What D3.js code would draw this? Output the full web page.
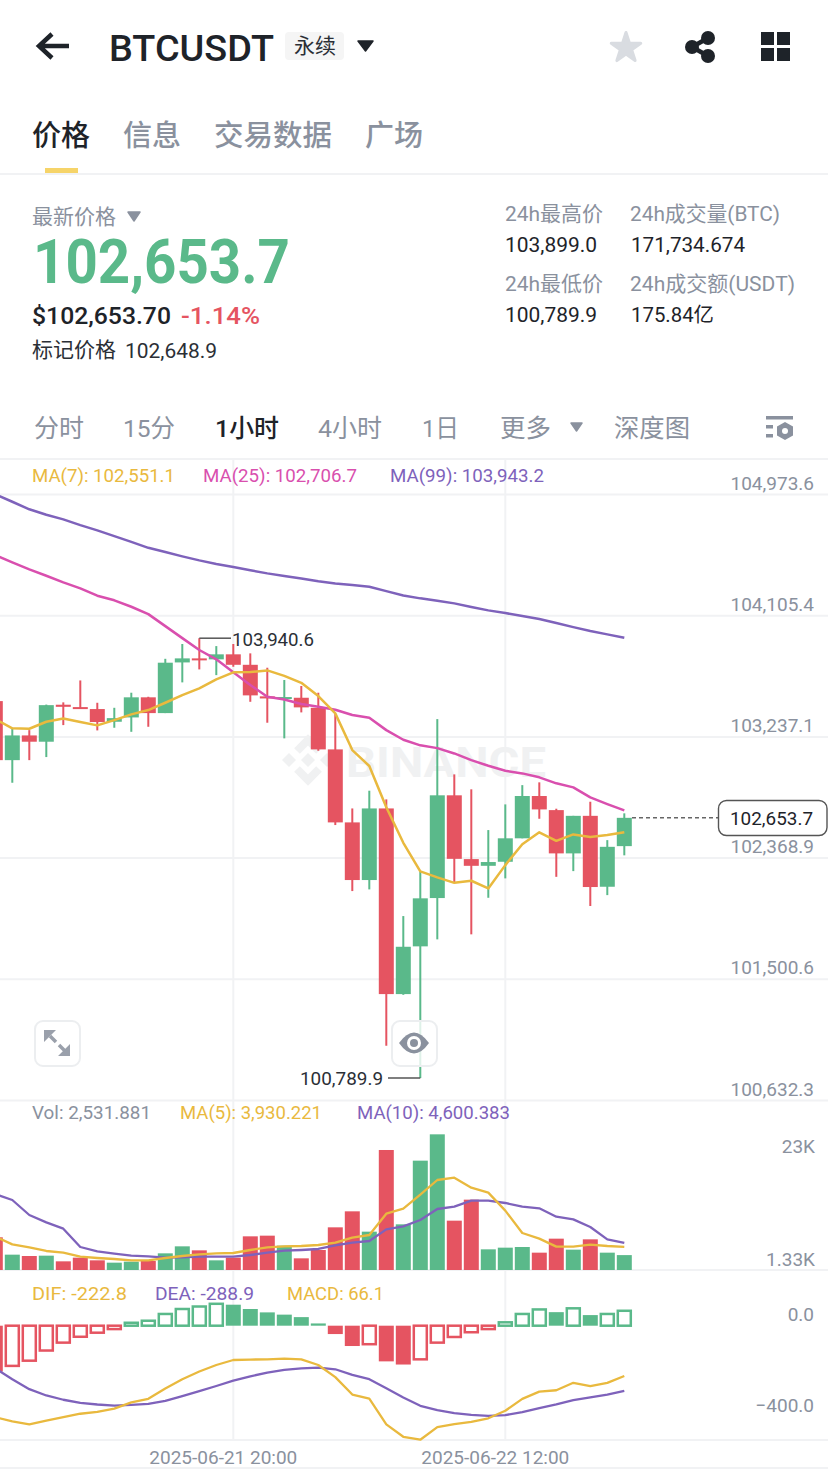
<!doctype html>
<html lang="zh">
<head>
<meta charset="utf-8">
<title>BTCUSDT</title>
<script src="https://cdn.jsdelivr.net/npm/d3@7/dist/d3.min.js"></script>
<style>
  html, body { margin: 0; padding: 0; background: #fff; }
  svg { display: block; }
  text { font-family: Roboto, "Noto Sans CJK SC", sans-serif; }
</style>
</head>
<body>
<svg id="svg" width="828" height="1474"></svg>
<script>
// hourly candles, 2025-06-21 06:00 to 2025-06-22 19:00
var startHour = "2025-06-21T06:00Z";
var candleCount = 38;

var open = [103490,103067,103244,103199,103464,103447,103433,103342,103373,103517,103404,103767,103796,103789,103825,103750,103524,103507,103514,103442,103144,102621,102208,102721,101391,101733,102079,102815,102358,102310,102339,102507,102810,102709,102399,102668,102160,102451];
var high = [103533,103297,103282,103465,103481,103638,103478,103442,103550,103521,103793,103899,103940.6,103884,103899,103832,103729,103641,103598,103550,103397,102721,102848,102786,101950,102267,103361,102965,102858,102566,102750,102888,102908,102719,102668,102769,102494,102686];
var low = [103053,102905,103067,103089,103318,103435,103280,103299,103270,103306,103404,103624,103717,103676,103736,103485,103335,103223,103409,103134,102602,102129,102141,101021,101386,100789.9,101783,102188,101819,102081,102220,102507,102647,102231,102272,102022,102100,102385];
var close = [103067,103244,103199,103461,103449,103435,103340,103368,103517,103404,103765,103796,103784,103825,103750,103531,103509,103519,103445,103144,102621,102208,102721,101391,101730,102077,102815,102360,102310,102337,102507,102810,102714,102399,102668,102158,102446,102653.7];

var ma7 = [103361,103295,103292,103342,103366,103340,103316,103354,103395,103426,103478,103533,103581,103646,103696,103698,103710,103671,103621,103526,103402,103139,103025,102729,102475,102270,102227,102188,102203,102148,102315,102464,102550,102489,102535,102516,102530,102551.1];
var ma25 = [104536,104484,104434,104388,104341,104298,104245,104212,104166,104113,104027,103941,103856,103789,103696,103605,103521,103502,103469,103449,103428,103390,103371,103282,103213,103173,103153,103115,103067,103027,102991,102972,102944,102901,102872,102800,102752,102706.7];
var ma99 = [104971,104918,104864,104825,104792,104751,104713,104672,104631,104588,104558,104527,104498,104472,104450,104427,104405,104386,104369,104348,104333,104321,104309,104278,104247,104226,104209,104190,104164,104140,104121,104099,104078,104049,104020,103992,103968,103943.2];

var volume = [5560,2607,2380,2437,1473,2097,1643,1247,1417,1530,2833,4023,3343,1643,2097,5723,5837,4137,1983,3400,7253,9973,6517,20400,7763,18587,23063,8387,11957,3513,3797,3910,2947,5327,3457,5213,2947,2531.881];
var volMa5 = [5667,4363,3853,3230,2947,2267,2040,1870,1643,1643,2040,2380,2663,2833,2890,3400,3853,4023,4080,4250,4647,5497,5950,9577,10427,12807,15300,15697,13997,13147,10087,6290,5327,3967,3967,4307,4080,3930.221];
var volMa10 = [12920,11900,9350,8103,7027,3910,3173,2777,2437,2323,2097,2153,2267,2267,2267,2550,2947,3287,3400,3570,4193,4647,4930,6913,7423,8500,10370,10767,11787,11787,11390,10767,10483,9067,8613,7310,5213,4600.383];

var macd = [-203,-178,-155,-110,-75,-49,-31,-15,13,22,52,74,85,97,93,74,59,49,38,10,-37,-90,-82,-158,-172,-149,-75,-50,-29,-15,15,52,72,60,77,47,52,66.1];
var dif = [-405,-424,-437,-421,-405,-390,-382,-367,-340,-324,-278,-237,-203,-174,-152,-150,-149,-146,-149,-174,-228,-305,-323,-437,-492,-505,-449,-436,-426,-410,-377,-324,-292,-286,-253,-268,-253,-222.8];
var dea = [-189,-237,-281,-309,-328,-342,-349,-354,-351,-346,-333,-312,-290,-267,-243,-224,-208,-196,-189,-186,-193,-218,-237,-277,-318,-355,-374,-387,-395,-399,-396,-383,-365,-349,-330,-317,-305,-288.9];

var priceTicks = [104973.6,104105.4,103237.1,102368.9,101500.6,100632.3];
var volTicks = [23000,1330];
var macdTicks = [0,-400];
var dateTicks = ["2025-06-21T20:00Z","2025-06-22T12:00Z"];
var lastPrice = 102653.7;

var GREEN = "#5ab98a", RED = "#e55461", YELLOW = "#e9b93e", PINK = "#d94fae", PURPLE = "#7e62bb";
var GRAY = "#8a919e", DARK = "#1e2329", RULE = "#f1f2f4", MARK = "#f0f1f2";

var hours = d3.utcHour.range(new Date(startHour), d3.utcHour.offset(new Date(startHour), candleCount));
var candles = hours.map(function(t, i) {
  return { t: t, open: open[i], high: high[i], low: low[i], close: close[i], vol: volume[i], macd: macd[i], prev: i ? macd[i-1] : macd[i] };
});

var svg = d3.select("#svg");

var x = d3.scaleBand()
  .domain(hours)
  .range([-13.2, 632.8])
  .paddingInner(2/17)
  .paddingOuter(1/17);
function cx(t) { return x(t) + x.bandwidth()/2; }

var y = d3.scaleLinear().domain([100632.3, 104973.6]).range([1100, 494]);
var yVol = d3.scaleLinear().domain([0, 23000]).range([1270, 1134.7]);
var yVolLabel = d3.scaleLinear().domain([1330, 23000]).range([1270, 1157]);
var yMacd = d3.scaleLinear().domain([-400, 0]).range([1416, 1325.7]);

function label(str, px, py, size, color, opt) {
  opt = opt || {};
  var t = svg.append("text").text(str)
    .attr("x", px).attr("y", py)
    .attr("font-size", size).attr("fill", color)
    .attr("font-weight", opt.weight || 400);
  if (opt.w) t.attr("textLength", opt.w).attr("lengthAdjust", "spacingAndGlyphs");
  return t;
}
function tri(x0, x1, y0, y1, color) {
  svg.append("path")
    .attr("d", "M" + x0 + "," + y0 + "L" + x1 + "," + y0 + "L" + (x0+x1)/2 + "," + y1 + "Z")
    .attr("fill", color).attr("stroke", color).attr("stroke-linejoin", "round").attr("stroke-width", 1.5);
}
function styleAxis(g) {
  g.select(".domain").remove();
  g.selectAll("text").attr("text-anchor", "end").attr("dy", "-5").attr("font-size", 19).attr("fill", GRAY)
    .attr("font-family", "Roboto");
}

// ---- header ----
svg.append("path").attr("d", "M69,46H39M52,34L39,46L52,58")
  .attr("fill", "none").attr("stroke", DARK).attr("stroke-width", 4.5);
label("BTCUSDT", 109, 61, 37, DARK, {weight: 500, w: 165});
svg.append("rect").attr("x", 285).attr("y", 32).attr("width", 59).attr("height", 28).attr("rx", 4).attr("fill", "#f5f5f5");
label("永续", 294, 53, 21, "#2b2f36", {w: 42});
tri(358, 373, 41, 51, DARK);
svg.append("path").attr("transform", "translate(626,48)")
  .attr("d", d3.symbol(d3.symbolStar, 270))
  .attr("fill", "#d9dce1").attr("stroke", "#d9dce1").attr("stroke-width", 3).attr("stroke-linejoin", "round");
svg.append("path").attr("d", "M708,38L692,47L708,56").attr("fill", "none").attr("stroke", DARK).attr("stroke-width", 4.5);
[[692,47],[708,38],[708,56]].forEach(function(c) {
  svg.append("circle").attr("cx", c[0]).attr("cy", c[1]).attr("r", 7).attr("fill", DARK);
});
[[761,32],[777,32],[761,48],[777,48]].forEach(function(c) {
  svg.append("rect").attr("x", c[0]).attr("y", c[1]).attr("width", 13).attr("height", 13).attr("fill", DARK);
});

label("价格", 32, 146, 29, DARK, {weight: 500, w: 58});
label("信息", 123, 146, 29, GRAY, {weight: 500, w: 58});
label("交易数据", 214, 146, 29, GRAY, {weight: 500, w: 118});
label("广场", 365, 146, 29, GRAY, {weight: 500, w: 58});
svg.append("rect").attr("x", 45).attr("y", 168).attr("width", 33).attr("height", 6).attr("fill", "#f6d469");
svg.append("rect").attr("x", 0).attr("y", 173).attr("width", 828).attr("height", 2).attr("fill", RULE);

// ---- price block ----
label("最新价格", 32, 224, 21, GRAY, {w: 84});
tri(128, 140, 212, 221, GRAY);
label("102,653.7", 33, 283, 62, GREEN, {weight: 700, w: 257});
label("$102,653.70", 32, 324, 24, DARK, {weight: 500, w: 139});
label("-1.14%", 181, 324, 24, RED, {weight: 500, w: 79});
label("标记价格", 32, 357, 21, "#2b2f36", {w: 84});
label("102,648.9", 125, 358, 20, "#2b2f36", {w: 92});

label("24h最高价", 505, 221, 21, GRAY, {w: 98});
label("24h成交量(BTC)", 630, 221, 21, GRAY, {w: 150});
label("103,899.0", 505, 252, 20, DARK, {w: 92});
label("171,734.674", 631, 252, 20, DARK, {w: 114});
label("24h最低价", 505, 291, 21, GRAY, {w: 98});
label("24h成交额(USDT)", 630, 291, 21, GRAY, {w: 165});
label("100,789.9", 505, 322, 20, DARK, {w: 92});
label("175.84亿", 631, 322, 20, DARK, {w: 83});

// ---- interval bar ----
label("分时", 34, 437, 24.5, GRAY, {w: 50});
label("15分", 123, 437, 24.5, GRAY, {w: 52});
label("1小时", 215, 437, 24.5, DARK, {weight: 500, w: 64});
label("4小时", 318, 437, 24.5, GRAY, {w: 64});
label("1日", 422, 437, 24.5, GRAY, {w: 37});
label("更多", 500, 437, 24.5, GRAY, {w: 51});
tri(571, 582, 423, 431, GRAY);
label("深度图", 614, 437, 24.5, GRAY, {w: 76});
svg.append("rect").attr("x", 766).attr("y", 416).attr("width", 27).attr("height", 3.5).attr("fill", GRAY);
svg.append("rect").attr("x", 766).attr("y", 425).attr("width", 7).attr("height", 3.5).attr("fill", GRAY);
svg.append("rect").attr("x", 766).attr("y", 434).attr("width", 7).attr("height", 3.5).attr("fill", GRAY);
svg.append("path").attr("transform", "translate(785,431)")
  .attr("d", "M0,-9L8,-4.5V4.5L0,9L-8,4.5V-4.5Z").attr("fill", GRAY);
svg.append("circle").attr("cx", 785).attr("cy", 431).attr("r", 3).attr("fill", "#fff");

// ---- grid ----
svg.append("rect").attr("x", 0).attr("y", 458).attr("width", 828).attr("height", 2).attr("fill", RULE);
svg.append("g").attr("class", "grid")
  .call(d3.axisRight(y).tickValues(priceTicks).tickSize(828).tickFormat(""))
  .call(function(g) { g.select(".domain").remove(); g.selectAll("line").attr("stroke", RULE).attr("stroke-width", 2); });
[1270, 1440, 1468].forEach(function(py) {
  svg.append("rect").attr("x", 0).attr("y", py-1).attr("width", 828).attr("height", 2).attr("fill", RULE);
});
dateTicks.forEach(function(d) {
  var px = cx(new Date(d));
  svg.append("line").attr("x1", px).attr("x2", px).attr("y1", 459).attr("y2", 1440)
    .attr("stroke", RULE).attr("stroke-width", 2);
});

// ---- watermark ----
var wm = svg.append("g").attr("transform", "translate(308,760)");
wm.selectAll("path.d").data([[-19,0],[19,0],[0,0]]).enter().append("path")
  .attr("d", function(d) {
    var r = 7;
    return "M" + d[0] + "," + (d[1]-r) + "L" + (d[0]+r) + "," + d[1] + "L" + d[0] + "," + (d[1]+r) + "L" + (d[0]-r) + "," + d[1] + "Z";
  })
  .attr("fill", MARK);
wm.append("path").attr("d", "M-11,-9L0,-20L11,-9M-11,9L0,20L11,9")
  .attr("fill", "none").attr("stroke", MARK).attr("stroke-width", 8);
label("BINANCE", 346, 777, 42, MARK, {weight: 700, w: 200});

// ---- candles ----
var line = d3.line()
  .x(function(d, i) { return cx(hours[i]); })
  .y(function(d) { return y(d); });

function color(d) { return d.close >= d.open ? GREEN : RED; }

var cg = svg.append("g");
cg.selectAll("line").data(candles).enter().append("line")
  .attr("x1", function(d) { return cx(d.t); })
  .attr("x2", function(d) { return cx(d.t); })
  .attr("y1", function(d) { return y(d.high); })
  .attr("y2", function(d) { return y(d.low); })
  .attr("stroke", color).attr("stroke-width", 2);
cg.selectAll("rect").data(candles).enter().append("rect")
  .attr("x", function(d) { return x(d.t); })
  .attr("width", x.bandwidth())
  .attr("y", function(d) { return y(Math.max(d.open, d.close)); })
  .attr("height", function(d) { return Math.max(2, Math.abs(y(d.open) - y(d.close))); })
  .attr("fill", color);

[[ma99, PURPLE], [ma25, PINK], [ma7, YELLOW]].forEach(function(s) {
  svg.append("path").datum(s[0]).attr("d", line)
    .attr("fill", "none").attr("stroke", s[1]).attr("stroke-width", 2.5).attr("stroke-linejoin", "round");
});

label("MA(7): 102,551.1", 32, 482, 18.5, YELLOW, {w: 143});
label("MA(25): 102,706.7", 203, 482, 18.5, PINK, {w: 154});
label("MA(99): 103,943.2", 390, 482, 18.5, PURPLE, {w: 154});

// price axis
svg.append("g").attr("transform", "translate(814,0)")
  .call(d3.axisRight(y).tickValues(priceTicks).tickSize(0).tickPadding(0).tickFormat(d3.format(",.1f")))
  .call(styleAxis);

// high / low callouts
var hiIdx = d3.maxIndex(high), loIdx = d3.minIndex(low);
var fmtP = d3.format(",.1f");
svg.append("line").attr("x1", cx(hours[hiIdx])).attr("x2", 231).attr("y1", y(high[hiIdx])).attr("y2", y(high[hiIdx]))
  .attr("stroke", "#555").attr("stroke-width", 1.5);
label(fmtP(high[hiIdx]), 232, y(high[hiIdx]) + 7.5, 19, "#2b2f36", {w: 82});
svg.append("line").attr("x1", 388).attr("x2", cx(hours[loIdx])).attr("y1", y(low[loIdx])).attr("y2", y(low[loIdx]))
  .attr("stroke", "#555").attr("stroke-width", 1.5);
label(fmtP(low[loIdx]), 300, y(low[loIdx]) + 7, 19, "#2b2f36", {w: 83});

// last price marker
svg.append("line").attr("x1", 632).attr("x2", 718).attr("y1", y(lastPrice)).attr("y2", y(lastPrice))
  .attr("stroke", "#666").attr("stroke-width", 1.5).attr("stroke-dasharray", "4,3");
svg.append("rect").attr("x", 718.5).attr("y", 800.5).attr("width", 108.5).attr("height", 35).attr("rx", 8)
  .attr("fill", "#fff").attr("stroke", "#555").attr("stroke-width", 1.4);
label(fmtP(lastPrice), 730, 825, 19, DARK, {w: 83});

// buttons on the chart
svg.append("rect").attr("x", 35).attr("y", 1021).attr("width", 45).attr("height", 45).attr("rx", 8)
  .attr("fill", "#fff").attr("fill-opacity", 0.8).attr("stroke", "#eceef0").attr("stroke-width", 2);
svg.append("path").attr("d", "M44,1030H56L44,1042ZM70,1056H58L70,1044Z").attr("fill", "#9aa0ab");
svg.append("path").attr("d", "M50,1036L56,1042M59,1045L65,1051").attr("stroke", "#9aa0ab").attr("stroke-width", 3.5);
svg.append("rect").attr("x", 392).attr("y", 1021).attr("width", 45).attr("height", 45).attr("rx", 8)
  .attr("fill", "#fff").attr("fill-opacity", 0.8).attr("stroke", "#eceef0").attr("stroke-width", 2);
svg.append("path").attr("d", "M399,1043Q414,1022 429,1043Q414,1064 399,1043Z").attr("fill", GRAY);
svg.append("circle").attr("cx", 414).attr("cy", 1043).attr("r", 7).attr("fill", "#fff");
svg.append("circle").attr("cx", 414).attr("cy", 1043).attr("r", 4).attr("fill", GRAY);

// ---- volume ----
var lineVol = d3.line()
  .x(function(d, i) { return cx(hours[i]); })
  .y(function(d) { return yVol(d); });

svg.append("g").selectAll("rect").data(candles).enter().append("rect")
  .attr("x", function(d) { return x(d.t); })
  .attr("width", x.bandwidth())
  .attr("y", function(d) { return yVol(d.vol); })
  .attr("height", function(d) { return yVol(0) - yVol(d.vol); })
  .attr("fill", color);
[[volMa10, PURPLE], [volMa5, YELLOW]].forEach(function(s) {
  svg.append("path").datum(s[0]).attr("d", lineVol)
    .attr("fill", "none").attr("stroke", s[1]).attr("stroke-width", 2.3).attr("stroke-linejoin", "round");
});

label("Vol: 2,531.881", 32, 1119, 18.5, GRAY, {w: 119});
label("MA(5): 3,930.221", 180, 1119, 18.5, YELLOW, {w: 142});
label("MA(10): 4,600.383", 357, 1119, 18.5, PURPLE, {w: 153});

svg.append("g").attr("transform", "translate(815,0)")
  .call(d3.axisRight(yVolLabel).tickValues(volTicks).tickSize(0).tickPadding(0)
    .tickFormat(function(d) { return d >= 10000 ? d/1000 + "K" : (d/1000).toFixed(2) + "K"; }))
  .call(styleAxis);

// ---- macd ----
var lineMacd = d3.line()
  .x(function(d, i) { return cx(hours[i]); })
  .y(function(d) { return yMacd(d); });

function macdColor(d) { return d.macd >= 0 ? GREEN : RED; }
function hollow(d) { return d.macd > d.prev; }

svg.append("g").selectAll("rect").data(candles).enter().append("rect")
  .attr("x", function(d) { return x(d.t) + (hollow(d) ? 1 : 0); })
  .attr("width", function(d) { return x.bandwidth() - (hollow(d) ? 2 : 0); })
  .attr("y", function(d) { return Math.min(yMacd(d.macd), yMacd(0)); })
  .attr("height", function(d) { return Math.abs(yMacd(d.macd) - yMacd(0)); })
  .attr("fill", function(d) { return hollow(d) ? "#fff" : macdColor(d); })
  .attr("stroke", function(d) { return hollow(d) ? macdColor(d) : "none"; })
  .attr("stroke-width", 2.5);
[[dea, PURPLE], [dif, YELLOW]].forEach(function(s) {
  svg.append("path").datum(s[0]).attr("d", lineMacd)
    .attr("fill", "none").attr("stroke", s[1]).attr("stroke-width", 2.3).attr("stroke-linejoin", "round");
});

label("DIF: -222.8", 32, 1300, 18.5, YELLOW, {w: 95});
label("DEA: -288.9", 155, 1300, 18.5, PURPLE, {w: 99});
label("MACD: 66.1", 287, 1300, 18.5, YELLOW, {w: 97});

svg.append("g").attr("transform", "translate(814,0)")
  .call(d3.axisRight(yMacd).tickValues(macdTicks).tickSize(0).tickPadding(0).tickFormat(d3.format(".1f")))
  .call(styleAxis);

// ---- date axis ----
var fmtDate = d3.utcFormat("%Y-%m-%d %H:%M");
svg.append("g").attr("transform", "translate(0,1447)")
  .call(d3.axisBottom(x).tickValues(dateTicks.map(function(d) { return hours[d3.bisectLeft(hours, new Date(d))]; }))
    .tickSize(0).tickPadding(0).tickFormat(fmtDate))
  .call(function(g) {
    g.select(".domain").remove();
    g.selectAll("text").attr("dx", "-10").attr("y", 0).attr("dy", "17").attr("font-size", 19).attr("fill", GRAY)
      .attr("font-family", "Roboto");
  });
</script>
</body>
</html>
